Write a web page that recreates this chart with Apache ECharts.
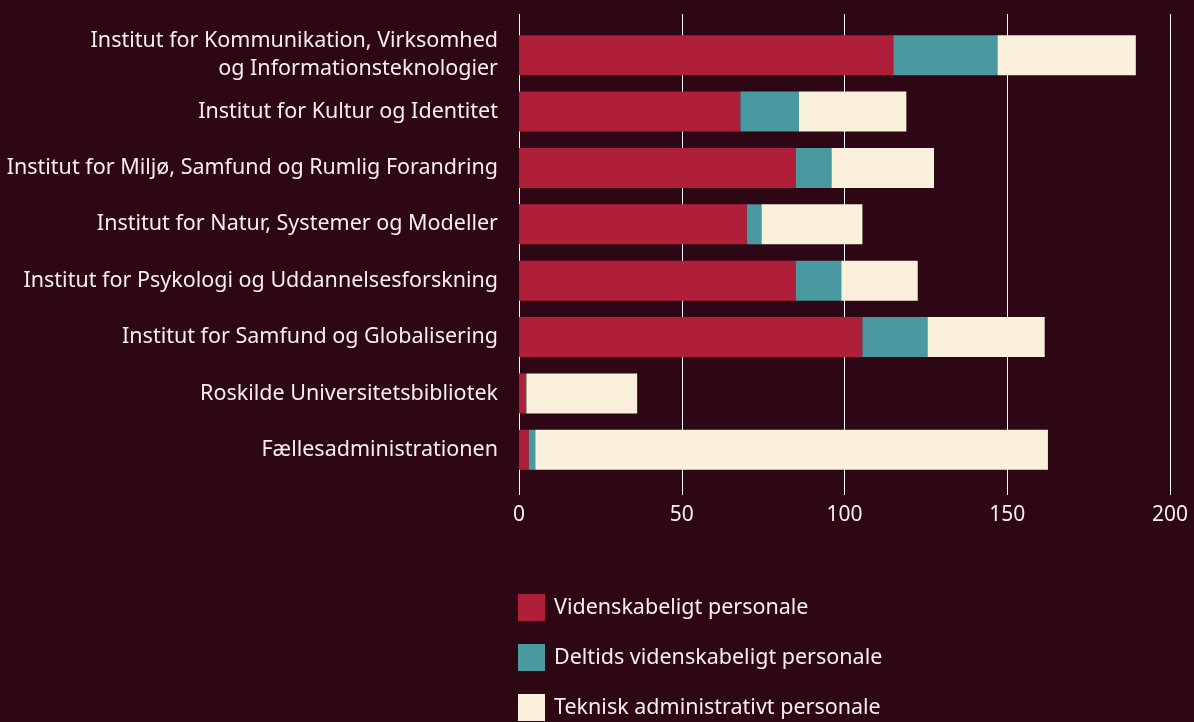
<!DOCTYPE html>
<html>
<head>
<meta charset="utf-8">
<script src="https://cdn.jsdelivr.net/npm/echarts@6/dist/echarts.min.js"></script>
<style>
  html, body { margin: 0; padding: 0; background: #2e0714; }
  #chart { width: 1194px; height: 722px; }
</style>
</head>
<body>
<div id="chart"></div>
<script>
const categories = [
  'Institut for Kommunikation, Virksomhed\nog Informationsteknologier',
  'Institut for Kultur og Identitet',
  'Institut for Miljø, Samfund og Rumlig Forandring',
  'Institut for Natur, Systemer og Modeller',
  'Institut for Psykologi og Uddannelsesforskning',
  'Institut for Samfund og Globalisering',
  'Roskilde Universitetsbibliotek',
  'Fællesadministrationen'
]
const seriesNames = ['Videnskabeligt personale', 'Deltids videnskabeligt personale', 'Teknisk administrativt personale']
const videnskabeligt = [115, 68, 85, 70, 85, 105.5, 2, 3]
const deltids = [32, 18, 11, 4.5, 14, 20, 0.3, 2]
const teknisk = [42.5, 33, 31.5, 31, 23.5, 36, 34, 157.5]
const xTicks = [0, 50, 100, 150, 200]

const colors = ['#b01f3a', '#4a99a0', '#fbf0dc']
const textColor = '#f7eef0'
const font = '"Noto Sans", "Open Sans", sans-serif'

const chart = echarts.init(document.getElementById('chart'))

const values = [videnskabeligt, deltids, teknisk]
const series = seriesNames.map((name, i) => ({
  name,
  type: 'bar',
  stack: 'total',
  xAxisIndex: 1,
  yAxisIndex: 1,
  barWidth: 40,
  itemStyle: { color: colors[i] },
  data: values[i]
}))

chart.setOption({
  backgroundColor: '#2e0714',
  textStyle: { fontFamily: font },
  legend: {
    orient: 'vertical',
    left: 518,
    top: 594,
    height: 130,
    padding: 0,
    itemWidth: 27,
    itemHeight: 27,
    itemGap: 23,
    icon: 'rect',
    data: seriesNames,
    textStyle: { color: textColor, fontSize: 21.5, fontFamily: font, padding: [0, 0, 0, 4] }
  },
  grid: [
    // gridlines + tick labels
    { left: 519, right: 24, top: 14, height: 481 },
    // bars
    { left: 519, right: 24, top: 27, height: 451 }
  ],
  xAxis: [
    {
      gridIndex: 0,
      type: 'value',
      min: xTicks[0],
      max: xTicks[xTicks.length - 1],
      interval: 50,
      axisLine: { show: false },
      axisTick: { show: false },
      splitLine: { show: true, lineStyle: { color: '#ffffff', width: 1 } },
      axisLabel: { color: textColor, fontSize: 21, margin: 10, fontFamily: font }
    },
    {
      gridIndex: 1,
      type: 'value',
      min: 0,
      max: 200,
      show: false
    }
  ],
  yAxis: [
    { gridIndex: 0, type: 'category', show: false, data: categories },
    {
      gridIndex: 1,
      type: 'category',
      inverse: true,
      data: categories,
      axisLine: { show: false },
      axisTick: { show: false },
      axisLabel: {
        color: textColor,
        fontSize: 21.5,
        margin: 21,
        lineHeight: 28,
        align: 'right',
        fontFamily: font
      }
    }
  ],
  series
})

window.addEventListener('resize', () => chart.resize())
</script>
</body>
</html>
